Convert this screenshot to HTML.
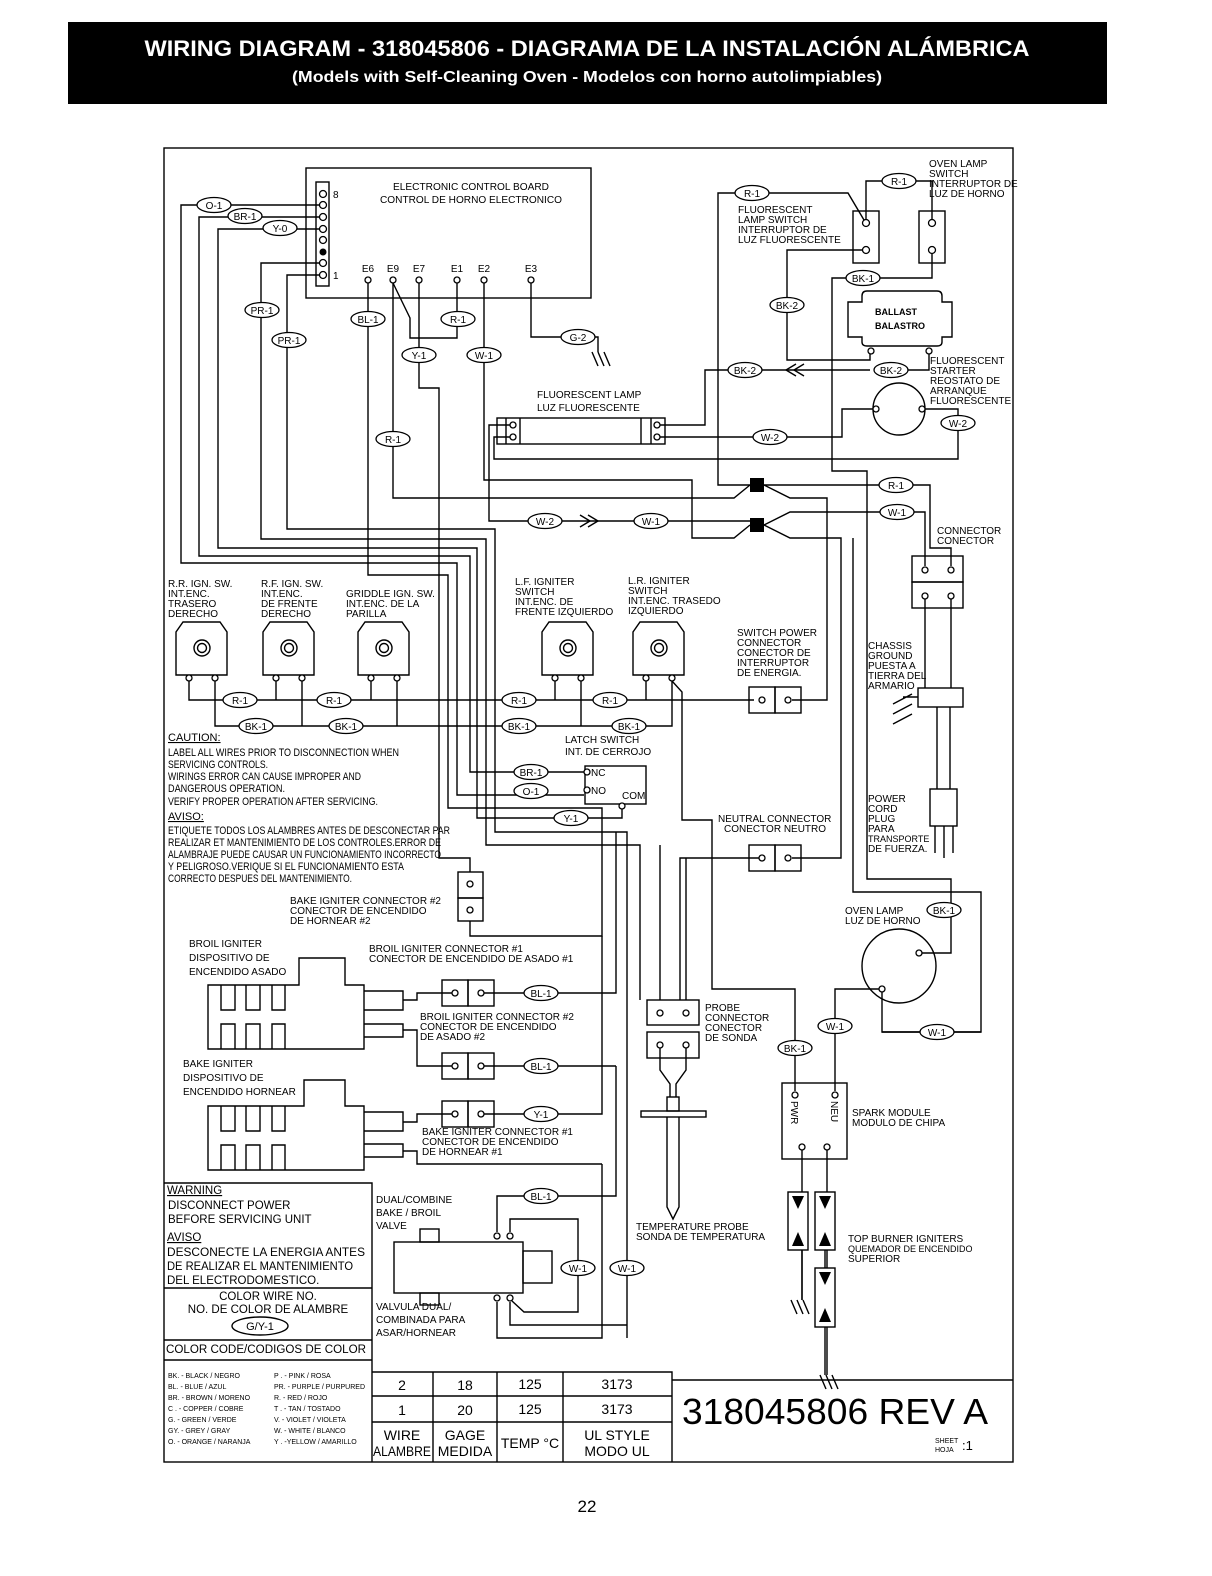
<!DOCTYPE html>
<html><head><meta charset="utf-8"><style>
html,body{margin:0;padding:0;background:#fff}
svg{display:block}
text{fill:#000}
.w{fill:none;stroke:#000;stroke-width:1.4}
.b{fill:#fff;stroke:#000;stroke-width:1.4}
.t{fill:#fff;stroke:#000;stroke-width:1.3}
.l ellipse{fill:#fff;stroke:#000;stroke-width:1.3}
.l text{text-anchor:middle}
.h{font-family:"Liberation Sans",sans-serif;font-weight:bold;fill:#fff}
</style></head><body>
<svg width="1212" height="1576" viewBox="0 0 1212 1576" xmlns="http://www.w3.org/2000/svg" font-family="Liberation Sans Narrow, Liberation Sans, sans-serif" font-size="10">
<!-- header -->
<rect x="68" y="22" width="1039" height="82" fill="#000"/>
<text class="h" x="587" y="56" text-anchor="middle" font-size="22" textLength="885" lengthAdjust="spacingAndGlyphs">WIRING DIAGRAM - 318045806 -  DIAGRAMA DE LA INSTALACIÓN ALÁMBRICA</text>
<text class="h" x="587" y="82" text-anchor="middle" font-size="16" textLength="590" lengthAdjust="spacingAndGlyphs">(Models with Self-Cleaning Oven  - Modelos con horno autolimpiables)</text>
<text x="587" y="1512" text-anchor="middle" font-family="Liberation Sans, sans-serif" font-size="17">22</text>

<rect x="164" y="148" width="849" height="1314" class="w" stroke-width="1.6"/>

<!-- ECB -->
<rect x="306" y="168" width="285" height="130" class="w"/>
<rect x="316" y="182" width="13" height="104" class="w"/>
<g class="t"><circle cx="323" cy="194" r="3.5"/><circle cx="323" cy="205" r="3.5"/><circle cx="323" cy="217" r="3.5"/><circle cx="323" cy="229" r="3.5"/><circle cx="323" cy="240" r="3.5"/><circle cx="323" cy="263" r="3.5"/><circle cx="323" cy="275" r="3.5"/></g>
<circle cx="323" cy="252" r="3.5" fill="#000"/>
<text x="333" y="198">8</text><text x="333" y="279">1</text>
<text x="393" y="190" textLength="156" lengthAdjust="spacingAndGlyphs">ELECTRONIC  CONTROL  BOARD</text>
<text x="380" y="203" textLength="182" lengthAdjust="spacingAndGlyphs">CONTROL  DE  HORNO  ELECTRONICO</text>
<g text-anchor="middle"><text x="368" y="272">E6</text><text x="393" y="272">E9</text><text x="419" y="272">E7</text><text x="457" y="272">E1</text><text x="484" y="272">E2</text><text x="531" y="272">E3</text></g>
<g class="t"><circle cx="368" cy="280" r="3"/><circle cx="393" cy="280" r="3"/><circle cx="419" cy="280" r="3"/><circle cx="457" cy="280" r="3"/><circle cx="484" cy="280" r="3"/><circle cx="531" cy="280" r="3"/></g>

<!-- left bundle wires -->
<path class="w" d="M320,205H181V563H457V795H584"/>
<path class="w" d="M320,217H199V556H470V772H584"/>
<path class="w" d="M320,229H218V548H477V818H622V809"/>
<path class="w" d="M320,263H261V539H486V845H640V1000"/>
<path class="w" d="M320,275H287V529H495V832H627V1268V1338"/>
<path class="w" d="M368,283V575H448V808H602V936H470V921"/>
<path class="w" d="M419,283V388H439V858H470V872"/>
<path class="w" d="M393,283L410,318V338H457V283"/>
<path class="w" d="M393,283V498H734L750,485"/>
<path class="w" d="M484,283V480H692V538H734L750,525"/>
<path class="w" d="M531,283V337H598V352"/>
<path class="w" d="M592,352L598,366M598,352L604,366M604,352L610,366"/>
<!-- fluorescent lamp -->
<rect x="497" y="418" width="168" height="26" class="w"/>
<path class="w" d="M520,418V444M641,418V444M651,418V444M506,418V444"/>
<g class="t"><circle cx="513" cy="425" r="3"/><circle cx="513" cy="437" r="3"/><circle cx="657" cy="425" r="3"/><circle cx="657" cy="437" r="3"/></g>
<text x="537" y="398">FLUORESCENT  LAMP</text><text x="537" y="411">LUZ  FLUORESCENTE</text>
<path class="w" d="M510,425H489V521H750"/>
<path class="w" d="M510,437H494V459H958V409H922"/>
<path class="w" d="M660,437H842V409H876"/>
<path class="w" d="M660,425H705V370H870"/>
<path class="w" d="M580,515L590,521L580,527M588,515L598,521L588,527"/>
<path class="w" d="M796,364L786,370L796,376M804,364L794,370L804,376"/>
<!-- switches -->
<rect x="853" y="211" width="26" height="52" class="w"/>
<rect x="919" y="211" width="26" height="52" class="w"/>
<g class="t"><circle cx="866" cy="223" r="3.5"/><circle cx="866" cy="250" r="3.5"/><circle cx="932" cy="223" r="3.5"/><circle cx="932" cy="250" r="3.5"/></g>
<path class="w" d="M864,220L848,193H718V485H750"/>
<path class="w" d="M866,220V181H932V220"/>
<path class="w" d="M862,250H787V360H870V353"/>
<path class="w" d="M932,254V278H832V471H867V879H951V953H922"/>
<text x="738" y="213">FLUORESCENT</text><text x="738" y="223">LAMP  SWITCH</text><text x="738" y="233">INTERRUPTOR  DE</text><text x="738" y="243">LUZ  FLUORESCENTE</text>
<text x="929" y="167">OVEN  LAMP</text><text x="929" y="177">SWITCH</text><text x="929" y="187">INTERRUPTOR  DE</text><text x="929" y="197">LUZ  DE  HORNO</text>
<!-- ballast -->
<path class="w" d="M848,302H862V296Q862,291 867,291H937Q942,291 942,296V302H952V337H942V342Q942,346 937,346H867Q862,346 862,342V337H848Z"/>
<circle cx="871" cy="351" r="3" class="t"/><circle cx="929" cy="351" r="3" class="t"/>
<path class="w" d="M929,354V370H908"/>
<text x="875" y="315" font-size="9" font-weight="bold">BALLAST</text><text x="875" y="329" font-size="9" font-weight="bold">BALASTRO</text>
<circle cx="899" cy="409" r="26" class="w"/>
<circle cx="876" cy="409" r="3" class="t"/><circle cx="922" cy="409" r="3" class="t"/>
<text x="930" y="364">FLUORESCENT</text><text x="930" y="374">STARTER</text><text x="930" y="384">REOSTATO  DE</text><text x="930" y="394">ARRANQUE</text><text x="930" y="404">FLUORESCENTE</text>
<!-- junctions -->
<rect x="750" y="478" width="14" height="14" fill="#000"/>
<rect x="750" y="518" width="14" height="14" fill="#000"/>
<path class="w" d="M764,485H930V548H951V566"/>
<path class="w" d="M764,485L790,498H827V700H792"/>
<path class="w" d="M764,525L790,512H925V566"/>
<path class="w" d="M764,525L790,538H841V858H792"/>
<path class="w" d="M853,538V892H981V1032H882"/>
<!-- connector -->
<rect x="912" y="556" width="51" height="26" class="w"/><rect x="912" y="582" width="51" height="26" class="w"/>
<g class="t"><circle cx="925" cy="570" r="3"/><circle cx="951" cy="570" r="3"/><circle cx="925" cy="596" r="3"/><circle cx="951" cy="596" r="3"/></g>
<text x="937" y="534">CONNECTOR</text><text x="937" y="544">CONECTOR</text>
<path class="w" d="M925,599V688M951,599V688"/>
<rect x="918" y="688" width="45" height="19" class="w"/>
<path class="w" d="M918,697H903M893,704L912,694M893,714L912,704M893,724L912,714"/>
<path class="w" d="M937,707V789M950,707V789"/>
<rect x="930" y="789" width="27" height="37" class="w"/>
<path class="w" d="M935,826V853M944,826V858M953,826V853"/>
<text x="868" y="649">CHASSIS</text><text x="868" y="659">GROUND</text><text x="868" y="669">PUESTA  A</text><text x="868" y="679">TIERRA  DEL</text><text x="868" y="689">ARMARIO</text>
<text x="868" y="802">POWER</text><text x="868" y="812">CORD</text><text x="868" y="822">PLUG</text><text x="868" y="832">PARA</text><text x="868" y="842" font-size="9">TRANSPORTE</text><text x="868" y="852">DE  FUERZA.</text>
<!-- igniter switches -->
<g id="sw1">
<path class="w" d="M176,675V632L183,622H220L227,632V675Z"/>
<circle cx="202" cy="648" r="8" class="w"/><circle cx="202" cy="648" r="4.5" class="w"/>
<circle cx="189" cy="678" r="3" class="t"/><circle cx="215" cy="678" r="3" class="t"/>
</g>
<use href="#sw1" x="87"/><use href="#sw1" x="182"/><use href="#sw1" x="366"/><use href="#sw1" x="457"/>
<path class="w" d="M189,681V700H754"/>
<path class="w" d="M276,681V700M371,681V700M555,681V700M646,681V700"/>
<path class="w" d="M215,681V726H672V681M302,681V726M397,681V726M581,681V726"/>
<path class="w" d="M672,681L682,692V820H712V989H795V1091"/>
<text x="168" y="587">R.R. IGN. SW.</text><text x="168" y="597">INT.ENC.</text><text x="168" y="607">TRASERO</text><text x="168" y="617">DERECHO</text>
<text x="261" y="587">R.F. IGN. SW.</text><text x="261" y="597">INT.ENC.</text><text x="261" y="607">DE  FRENTE</text><text x="261" y="617">DERECHO</text>
<text x="346" y="597">GRIDDLE  IGN.  SW.</text><text x="346" y="607">INT.ENC.  DE  LA</text><text x="346" y="617">PARILLA</text>
<text x="515" y="585">L.F.  IGNITER</text><text x="515" y="595">SWITCH</text><text x="515" y="605">INT.ENC.  DE</text><text x="515" y="615">FRENTE  IZQUIERDO</text>
<text x="628" y="584">L.R.  IGNITER</text><text x="628" y="594">SWITCH</text><text x="628" y="604">INT.ENC.  TRASEDO</text><text x="628" y="614">IZQUIERDO</text>
<!-- switch power / neutral -->
<rect x="749" y="687" width="26" height="26" class="w"/><rect x="775" y="687" width="26" height="26" class="w"/>
<circle cx="762" cy="700" r="3" class="t"/><circle cx="788" cy="700" r="3" class="t"/>
<rect x="749" y="845" width="26" height="26" class="w"/><rect x="775" y="845" width="26" height="26" class="w"/>
<circle cx="762" cy="858" r="3" class="t"/><circle cx="788" cy="858" r="3" class="t"/>
<path class="w" d="M759,858H680V1000"/>
<text x="737" y="636">SWITCH  POWER</text><text x="737" y="646">CONNECTOR</text><text x="737" y="656">CONECTOR  DE</text><text x="737" y="666">INTERRUPTOR</text><text x="737" y="676">DE  ENERGIA.</text>
<text x="718" y="822">NEUTRAL  CONNECTOR</text><text x="724" y="832">CONECTOR  NEUTRO</text>
<!-- latch -->
<rect x="585" y="766" width="61" height="38" class="w"/>
<circle cx="587" cy="772" r="3" class="t"/><circle cx="587" cy="790" r="3" class="t"/><circle cx="622" cy="806" r="3" class="t"/>
<text x="591" y="776">NC</text><text x="591" y="794">NO</text><text x="622" y="799">COM</text>
<text x="565" y="743">LATCH  SWITCH</text><text x="565" y="755">INT.  DE  CERROJO</text>
<!-- caution -->
<g font-size="11" lengthAdjust="spacingAndGlyphs">
<text x="168" y="741" text-decoration="underline">CAUTION:</text>
<text x="168" y="756" textLength="231" lengthAdjust="spacingAndGlyphs">LABEL ALL WIRES PRIOR TO DISCONNECTION WHEN</text>
<text x="168" y="768" textLength="100" lengthAdjust="spacingAndGlyphs">SERVICING CONTROLS.</text>
<text x="168" y="780" textLength="193" lengthAdjust="spacingAndGlyphs">WIRINGS ERROR CAN CAUSE IMPROPER AND</text>
<text x="168" y="792" textLength="117" lengthAdjust="spacingAndGlyphs">DANGEROUS OPERATION.</text>
<text x="168" y="805" textLength="210" lengthAdjust="spacingAndGlyphs">VERIFY PROPER OPERATION AFTER SERVICING.</text>
<text x="168" y="820" text-decoration="underline">AVISO:</text>
<text x="168" y="834" textLength="282" lengthAdjust="spacingAndGlyphs">ETIQUETE TODOS LOS ALAMBRES ANTES DE DESCONECTAR PAR</text>
<text x="168" y="846" textLength="273" lengthAdjust="spacingAndGlyphs">REALIZAR ET MANTENIMIENTO DE LOS CONTROLES.ERROR DE</text>
<text x="168" y="858" textLength="273" lengthAdjust="spacingAndGlyphs">ALAMBRAJE PUEDE CAUSAR UN FUNCIONAMIENTO INCORRECTO</text>
<text x="168" y="870" textLength="236" lengthAdjust="spacingAndGlyphs">Y PELIGROSO.VERIQUE SI EL FUNCIONAMIENTO ESTA</text>
<text x="168" y="882" textLength="184" lengthAdjust="spacingAndGlyphs">CORRECTO DESPUES DEL MANTENIMIENTO.</text>
</g>
<!-- bake conn 2 -->
<rect x="458" y="872" width="25" height="26" class="w"/><rect x="458" y="898" width="25" height="23" class="w"/>
<circle cx="470" cy="884" r="3" class="t"/><circle cx="470" cy="910" r="3" class="t"/>
<text x="290" y="904">BAKE  IGNITER  CONNECTOR  #2</text><text x="290" y="914">CONECTOR  DE  ENCENDIDO</text><text x="290" y="924">DE  HORNEAR  #2</text>
<!-- broil igniter -->
<path class="w" d="M208,985H299V958H345V985H364V1049H208Z"/>
<path class="w" d="M221,985V1010H235V985M246,985V1010H260V985M272,985V1010H285V985M221,1049V1024H235V1049M246,1049V1024H260V1049M272,1049V1024H285V1049"/>
<path class="w" d="M364,991H403V1010H364M364,1024H403V1037H364"/>
<path class="w" d="M403,1000H417V993H452M403,1030H417V1066H452"/>
<text x="189" y="947">BROIL  IGNITER</text><text x="189" y="961">DISPOSITIVO  DE</text><text x="189" y="975">ENCENDIDO  ASADO</text>
<!-- bake igniter -->
<path class="w" d="M208,1106H304V1080H345V1106H364V1170H208Z"/>
<path class="w" d="M221,1106V1131H235V1106M246,1106V1131H260V1106M272,1106V1131H285V1106M221,1170V1145H235V1170M246,1170V1145H260V1170M272,1170V1145H285V1170"/>
<path class="w" d="M364,1112H403V1131H364M364,1144H403V1157H364"/>
<path class="w" d="M403,1122H417V1114H452M403,1151H417V1164H602"/>
<text x="183" y="1067">BAKE  IGNITER</text><text x="183" y="1081">DISPOSITIVO  DE</text><text x="183" y="1095">ENCENDIDO  HORNEAR</text>
<!-- broil/bake connectors -->
<g>
<rect x="442" y="980" width="26" height="26" class="w"/><rect x="468" y="980" width="26" height="26" class="w"/>
<circle cx="455" cy="993" r="3" class="t"/><circle cx="481" cy="993" r="3" class="t"/>
<rect x="442" y="1053" width="26" height="26" class="w"/><rect x="468" y="1053" width="26" height="26" class="w"/>
<circle cx="455" cy="1066" r="3" class="t"/><circle cx="481" cy="1066" r="3" class="t"/>
<rect x="442" y="1101" width="26" height="26" class="w"/><rect x="468" y="1101" width="26" height="26" class="w"/>
<circle cx="455" cy="1114" r="3" class="t"/><circle cx="481" cy="1114" r="3" class="t"/>
</g>
<path class="w" d="M484,993H616V832M484,1066H616M484,1114H602V936M602,1164V1338H497V1302"/>
<path class="w" d="M497,1232V1196H616V1066"/>
<text x="369" y="952">BROIL  IGNITER  CONNECTOR  #1</text><text x="369" y="962">CONECTOR  DE  ENCENDIDO  DE  ASADO  #1</text>
<text x="420" y="1020">BROIL  IGNITER   CONNECTOR  #2</text><text x="420" y="1030">CONECTOR  DE  ENCENDIDO</text><text x="420" y="1040">DE  ASADO  #2</text>
<text x="422" y="1135">BAKE  IGNITER  CONNECTOR  #1</text><text x="422" y="1145">CONECTOR  DE  ENCENDIDO</text><text x="422" y="1155">DE  HORNEAR  #1</text>
<!-- valve -->
<rect x="394" y="1242" width="129" height="51" class="w"/>
<rect x="523" y="1251" width="29" height="32" class="w"/>
<rect x="420" y="1229" width="19" height="13" class="w"/><rect x="420" y="1293" width="19" height="12" class="w"/>
<g class="t"><circle cx="497" cy="1236" r="3"/><circle cx="510" cy="1236" r="3"/><circle cx="497" cy="1298" r="3"/><circle cx="510" cy="1298" r="3"/></g>
<path class="w" d="M510,1232V1219H578V1312H524L512,1301"/>
<path class="w" d="M510,1302V1325H627"/>
<text x="376" y="1203">DUAL/COMBINE</text><text x="376" y="1216">BAKE  /  BROIL</text><text x="376" y="1229">VALVE</text>
<text x="376" y="1310">VALVULA  DUAL/</text><text x="376" y="1323">COMBINADA  PARA</text><text x="376" y="1336">ASAR/HORNEAR</text>
<!-- probe -->
<rect x="647" y="1000" width="52" height="25" class="w"/><rect x="647" y="1032" width="52" height="26" class="w"/>
<g class="t"><circle cx="660" cy="1013" r="3"/><circle cx="686" cy="1013" r="3"/><circle cx="660" cy="1045" r="3"/><circle cx="686" cy="1045" r="3"/></g>
<path class="w" d="M660,1000V845M686,1000V858"/>
<path class="w" d="M660,1048V1070L670,1084V1097M686,1048V1070L676,1084V1097"/>
<rect x="667" y="1097" width="12" height="14" class="w"/>
<rect x="641" y="1111" width="65" height="6" class="w"/>
<path class="w" d="M667,1117V1207L673,1219L679,1207V1117"/>
<text x="705" y="1011">PROBE</text><text x="705" y="1021">CONNECTOR</text><text x="705" y="1031">CONECTOR</text><text x="705" y="1041">DE  SONDA</text>
<text x="636" y="1230">TEMPERATURE  PROBE</text><text x="636" y="1240">SONDA  DE  TEMPERATURA</text>
<!-- oven lamp -->
<circle cx="899" cy="966" r="37" class="w"/>
<circle cx="882" cy="989" r="3" class="t"/>
<circle cx="919" cy="953" r="3" class="t"/>
<path class="w" d="M882,992V1032H981M879,989H835V1091"/>
<text x="845" y="914">OVEN  LAMP</text><text x="845" y="924">LUZ  DE  HORNO</text>
<!-- spark module -->
<rect x="782" y="1083" width="65" height="76" class="w"/>
<g class="t"><circle cx="795" cy="1095" r="3"/><circle cx="835" cy="1095" r="3"/><circle cx="802" cy="1147" r="3"/><circle cx="827" cy="1147" r="3"/></g>
<text transform="translate(791,1101) rotate(90)">PWR</text>
<text transform="translate(831,1101) rotate(90)">NEU</text>
<text x="852" y="1116">SPARK  MODULE</text><text x="852" y="1126">MODULO  DE  CHIPA</text>
<path class="w" d="M802,1150V1300M827,1150V1375"/>
<rect x="788" y="1192" width="20" height="58" class="b"/><rect x="815" y="1192" width="20" height="58" class="b"/><rect x="815" y="1268" width="20" height="59" class="b"/>
<g fill="#000"><path d="M792,1196H804L798,1209Z"/><path d="M792,1246H804L798,1232Z"/><path d="M819,1196H831L825,1209Z"/><path d="M819,1246H831L825,1232Z"/><path d="M819,1272H831L825,1285Z"/><path d="M819,1322H831L825,1308Z"/></g>
<path class="w" d="M802,1250V1300M825,1250V1268M825,1327V1375"/>
<path class="w" d="M797,1300L803,1314M803,1300L809,1314M791,1300L797,1314M820,1375L826,1389M826,1375L832,1389M832,1375L838,1389"/>
<text x="848" y="1242">TOP  BURNER  IGNITERS</text><text x="848" y="1252" font-size="9">QUEMADOR  DE  ENCENDIDO</text><text x="848" y="1262">SUPERIOR</text>

<!-- labels -->
<g class="l">
<g transform="translate(214,205)"><ellipse rx="17" ry="7.5"/><text y="4">O-1</text></g>
<g transform="translate(245,216)"><ellipse rx="17" ry="7.5"/><text y="4">BR-1</text></g>
<g transform="translate(280,228)"><ellipse rx="17" ry="7.5"/><text y="4">Y-0</text></g>
<g transform="translate(262,310)"><ellipse rx="17" ry="7.5"/><text y="4">PR-1</text></g>
<g transform="translate(289,340)"><ellipse rx="17" ry="7.5"/><text y="4">PR-1</text></g>
<g transform="translate(368,319)"><ellipse rx="17" ry="7.5"/><text y="4">BL-1</text></g>
<g transform="translate(458,319)"><ellipse rx="17" ry="7.5"/><text y="4">R-1</text></g>
<g transform="translate(419,355)"><ellipse rx="17" ry="7.5"/><text y="4">Y-1</text></g>
<g transform="translate(484,355)"><ellipse rx="17" ry="7.5"/><text y="4">W-1</text></g>
<g transform="translate(578,337)"><ellipse rx="17" ry="7.5"/><text y="4">G-2</text></g>
<g transform="translate(393,439)"><ellipse rx="17" ry="7.5"/><text y="4">R-1</text></g>
<g transform="translate(545,521)"><ellipse rx="17" ry="7.5"/><text y="4">W-2</text></g>
<g transform="translate(651,521)"><ellipse rx="17" ry="7.5"/><text y="4">W-1</text></g>
<g transform="translate(752,193)"><ellipse rx="17" ry="7.5"/><text y="4">R-1</text></g>
<g transform="translate(899,181)"><ellipse rx="17" ry="7.5"/><text y="4">R-1</text></g>
<g transform="translate(863,278)"><ellipse rx="17" ry="7.5"/><text y="4">BK-1</text></g>
<g transform="translate(787,305)"><ellipse rx="17" ry="7.5"/><text y="4">BK-2</text></g>
<g transform="translate(745,370)"><ellipse rx="17" ry="7.5"/><text y="4">BK-2</text></g>
<g transform="translate(891,370)"><ellipse rx="17" ry="7.5"/><text y="4">BK-2</text></g>
<g transform="translate(958,423)"><ellipse rx="17" ry="7.5"/><text y="4">W-2</text></g>
<g transform="translate(770,437)"><ellipse rx="17" ry="7.5"/><text y="4">W-2</text></g>
<g transform="translate(896,485)"><ellipse rx="17" ry="7.5"/><text y="4">R-1</text></g>
<g transform="translate(897,512)"><ellipse rx="17" ry="7.5"/><text y="4">W-1</text></g>
<g transform="translate(240,700)"><ellipse rx="17" ry="7.5"/><text y="4">R-1</text></g>
<g transform="translate(334,700)"><ellipse rx="17" ry="7.5"/><text y="4">R-1</text></g>
<g transform="translate(519,700)"><ellipse rx="17" ry="7.5"/><text y="4">R-1</text></g>
<g transform="translate(610,700)"><ellipse rx="17" ry="7.5"/><text y="4">R-1</text></g>
<g transform="translate(256,726)"><ellipse rx="17" ry="7.5"/><text y="4">BK-1</text></g>
<g transform="translate(346,726)"><ellipse rx="17" ry="7.5"/><text y="4">BK-1</text></g>
<g transform="translate(519,726)"><ellipse rx="17" ry="7.5"/><text y="4">BK-1</text></g>
<g transform="translate(629,726)"><ellipse rx="17" ry="7.5"/><text y="4">BK-1</text></g>
<g transform="translate(531,772)"><ellipse rx="17" ry="7.5"/><text y="4">BR-1</text></g>
<g transform="translate(531,791)"><ellipse rx="17" ry="7.5"/><text y="4">O-1</text></g>
<g transform="translate(571,818)"><ellipse rx="17" ry="7.5"/><text y="4">Y-1</text></g>
<g transform="translate(541,993)"><ellipse rx="17" ry="7.5"/><text y="4">BL-1</text></g>
<g transform="translate(541,1066)"><ellipse rx="17" ry="7.5"/><text y="4">BL-1</text></g>
<g transform="translate(541,1114)"><ellipse rx="17" ry="7.5"/><text y="4">Y-1</text></g>
<g transform="translate(541,1196)"><ellipse rx="17" ry="7.5"/><text y="4">BL-1</text></g>
<g transform="translate(578,1268)"><ellipse rx="17" ry="7.5"/><text y="4">W-1</text></g>
<g transform="translate(627,1268)"><ellipse rx="17" ry="7.5"/><text y="4">W-1</text></g>
<g transform="translate(944,910)"><ellipse rx="17" ry="7.5"/><text y="4">BK-1</text></g>
<g transform="translate(835,1026)"><ellipse rx="17" ry="7.5"/><text y="4">W-1</text></g>
<g transform="translate(937,1032)"><ellipse rx="17" ry="7.5"/><text y="4">W-1</text></g>
<g transform="translate(795,1048)"><ellipse rx="17" ry="7.5"/><text y="4">BK-1</text></g>
</g>

<!-- warning block -->
<path class="w" d="M164,1183H372V1462M164,1288H372M164,1340H372M164,1360H372"/>
<g font-size="11.5">
<text x="167" y="1194" text-decoration="underline">WARNING</text>
<text x="168" y="1209">DISCONNECT  POWER</text>
<text x="168" y="1223">BEFORE  SERVICING  UNIT</text>
<text x="167" y="1241" text-decoration="underline">AVISO</text>
<text x="167" y="1256" textLength="198" lengthAdjust="spacingAndGlyphs">DESCONECTE  LA  ENERGIA  ANTES</text>
<text x="167" y="1270" textLength="186" lengthAdjust="spacingAndGlyphs">DE  REALIZAR  EL  MANTENIMIENTO</text>
<text x="167" y="1284">DEL  ELECTRODOMESTICO.</text>
<text x="268" y="1300" text-anchor="middle">COLOR  WIRE  NO.</text>
<text x="268" y="1313" text-anchor="middle">NO.  DE  COLOR  DE  ALAMBRE</text>
<text x="166" y="1353" textLength="200" lengthAdjust="spacingAndGlyphs">COLOR  CODE/CODIGOS  DE  COLOR</text>
</g>
<ellipse cx="260" cy="1326" rx="28" ry="9" class="b"/><text x="260" y="1330" text-anchor="middle" font-size="11">G/Y-1</text>
<g font-size="7">
<text x="168" y="1378">BK. - BLACK / NEGRO</text><text x="168" y="1389">BL. - BLUE / AZUL</text><text x="168" y="1400">BR. - BROWN / MORENO</text><text x="168" y="1411">C . - COPPER / COBRE</text><text x="168" y="1422">G.  - GREEN / VERDE</text><text x="168" y="1433">GY. - GREY / GRAY</text><text x="168" y="1444">O.  - ORANGE / NARANJA</text>
<text x="274" y="1378">P . - PINK / ROSA</text><text x="274" y="1389">PR. - PURPLE / PURPURED</text><text x="274" y="1400">R.  - RED / ROJO</text><text x="274" y="1411">T . - TAN / TOSTADO</text><text x="274" y="1422">V.  - VIOLET / VIOLETA</text><text x="274" y="1433">W.  - WHITE / BLANCO</text><text x="274" y="1444">Y . -YELLOW / AMARILLO</text>
</g>
<!-- table -->
<path class="w" d="M372,1372H672V1462M372,1396H672M372,1422H672M433,1372V1462M497,1372V1462M563,1372V1462M672,1380H1013"/>
<g font-size="14" text-anchor="middle">
<text x="402" y="1390">2</text><text x="465" y="1390">18</text><text x="530" y="1389">125</text><text x="617" y="1389">3173</text>
<text x="402" y="1415">1</text><text x="465" y="1415">20</text><text x="530" y="1414">125</text><text x="617" y="1414">3173</text>
<text x="402" y="1440">WIRE</text><text x="402" y="1456" textLength="58" lengthAdjust="spacingAndGlyphs">ALAMBRE</text>
<text x="465" y="1440">GAGE</text><text x="465" y="1456">MEDIDA</text>
<text x="530" y="1448">TEMP °C</text>
<text x="617" y="1440">UL  STYLE</text><text x="617" y="1456">MODO  UL</text>
</g>
<text x="835" y="1424" text-anchor="middle" font-size="36" textLength="306" lengthAdjust="spacingAndGlyphs">318045806  REV  A</text>
<text x="935" y="1443" font-size="7">SHEET</text><text x="935" y="1452" font-size="7">HOJA</text><text x="962" y="1450" font-size="13">:1</text>
</svg>
</body></html>
